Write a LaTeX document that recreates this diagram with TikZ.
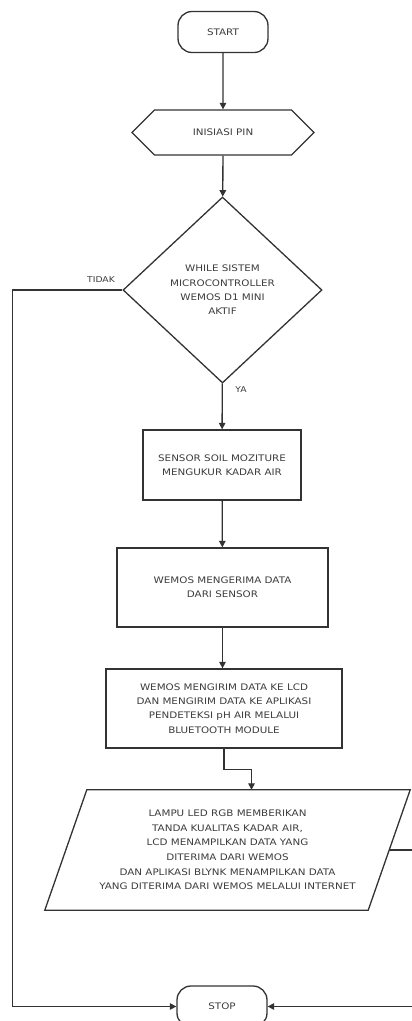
\documentclass[tikz,border=0pt]{standalone}
\usepackage{fontspec}
\newfontfamily\flowfont[FakeStretch=1.15]{DejaVu Sans}
\usetikzlibrary{shapes.geometric,shapes.symbols,arrows.meta,calc}
\definecolor{linec}{HTML}{333333}
\definecolor{textc}{HTML}{3C3C3C}
\begin{document}
\begin{tikzpicture}[x=1pt,y=-1pt,
  base/.style={draw=linec,line width=1.3pt,text=textc,align=center,inner sep=0pt,
    font=\flowfont\fontsize{9}{14.3}\selectfont},
  term/.style={base,rectangle,rounded corners=14pt,minimum width=90pt,minimum height=41pt},
  prep/.style={base,signal,signal to=east and west,signal pointer angle=90,minimum width=182pt,minimum height=45pt},
  decis/.style={base,diamond,minimum width=199pt,minimum height=186pt,aspect=1.07},
  proc/.style={base,rectangle},
  iobox/.style={text=textc,align=center,inner sep=0pt,font=\flowfont\fontsize{9}{14.6}\selectfont},
  arr/.style={draw=linec,line width=1.3pt,-{Triangle[length=6.5pt,width=6.5pt]}},
  lbl/.style={text=textc,inner sep=0pt,font=\flowfont\fontsize{8}{10}\selectfont}
]
\useasboundingbox[fill=white] (0,0) rectangle (412,1021);

\node[term] (start) at (223,32) {START};
\node[prep] (init) at (223,132.5) {INISIASI PIN};
\node[decis] (dec) at (222.5,290) {WHILE SISTEM\\MICROCONTROLLER\\WEMOS D1 MINI\\AKTIF};
\node[proc,minimum width=158pt,minimum height=70pt] (r1) at (222,465) {SENSOR SOIL MOZITURE\\MENGUKUR KADAR AIR};
\node[proc,minimum width=211pt,minimum height=79pt] (r2) at (222.5,587.5) {WEMOS MENGERIMA DATA\\DARI SENSOR};
\node[proc,minimum width=236pt,minimum height=79pt] (r3) at (224,708.5) {WEMOS MENGIRIM DATA KE LCD\\DAN MENGIRIM DATA KE APLIKASI\\PENDETEKSI pH AIR MELALUI\\BLUETOOTH MODULE};
\node[iobox,minimum width=323pt,minimum height=120pt] (para) at (227.5,850) {LAMPU LED RGB MEMBERIKAN\\TANDA KUALITAS KADAR AIR,\\LCD MENAMPILKAN DATA YANG\\DITERIMA DARI WEMOS\\DAN APLIKASI BLYNK MENAMPILKAN DATA\\YANG DITERIMA DARI WEMOS MELALUI INTERNET};
\draw[draw=linec,line width=1.3pt]
  ($(para.south west)+(-21,0)$) -- ($(para.south east)+(-21,0)$) --
  ($(para.north east)+(21,0)$) -- ($(para.north west)+(21,0)$) -- cycle;
\node[term] (stop) at (222,1006.5) {STOP};

\draw[arr] (start) -- (init);
\draw[arr] (init) -- (dec);
\draw[arr] (dec) -- (r1);
\draw[arr] (r1) -- (r2);
\draw[arr] (r2.south) -- (r2.south |- r3.north);
\draw[arr] (r3.south) -- ++(0,21) -| ([xshift=24pt]para.north);
\draw[arr] (dec.west) -- ++(-110,0) |- (stop.west);
\draw[arr] (para.east) -- ++(40,0) |- (stop.east);

\node[lbl] (tidak) at (101,280) {TIDAK};
\node[lbl] (ya) at (241,390) {YA};
\end{tikzpicture}
\end{document}
